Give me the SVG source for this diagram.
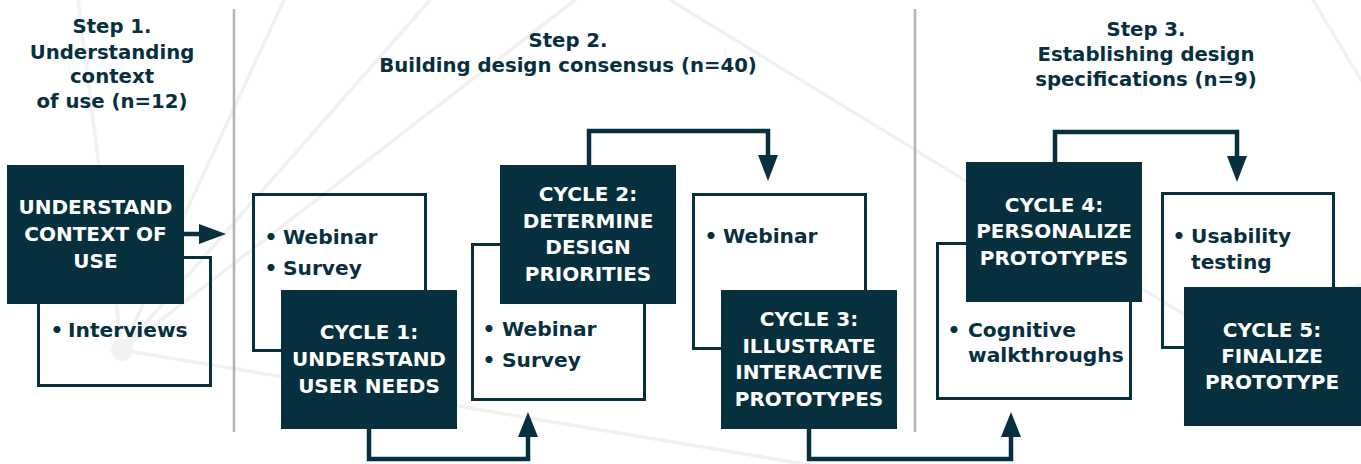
<svg xmlns="http://www.w3.org/2000/svg" width="1361" height="464" viewBox="0 0 1361 464">
  <defs>
    <style>
      .bg { stroke: #f1f1f1; stroke-width: 3.5; fill: none; stroke-linecap: round; }
      .divider { stroke: #b4b4b4; stroke-width: 2.5; }
      .title { font-family: "DejaVu Sans", "Liberation Sans", sans-serif; font-weight: bold; font-size: 19.7px; fill: #07303f; text-anchor: middle; }
      .dark { fill: #07303f; }
      .frame { fill: none; stroke: #07303f; stroke-width: 3; }
      .label { font-family: "DejaVu Sans", "Liberation Sans", sans-serif; font-weight: bold; font-size: 20px; fill: #ffffff; text-anchor: middle; }
      .item { font-family: "DejaVu Sans", "Liberation Sans", sans-serif; font-weight: bold; font-size: 20.2px; fill: #07303f; }
      .dot { text-anchor: middle; }
      .link { fill: none; stroke: #07303f; stroke-width: 4.5; stroke-linejoin: miter; }
      .head { fill: #07303f; }
    </style>
  </defs>
  <rect width="1361" height="464" fill="#ffffff"/>

  <!-- faint network pattern in the background -->
  <g id="background">
    <line class="bg" x1="78" y1="0" x2="122" y2="350"/>
    <line class="bg" x1="284" y1="0" x2="122" y2="350"/>
    <line class="bg" x1="430" y1="0" x2="122" y2="350"/>
    <line class="bg" x1="575" y1="0" x2="122" y2="350"/>
    <line class="bg" x1="122" y1="350" x2="900" y2="480"/>
    <line class="bg" x1="670" y1="0" x2="1190" y2="318"/>
    <line class="bg" x1="1190" y1="318" x2="1361" y2="285"/>
    <line class="bg" x1="1313" y1="0" x2="1361" y2="80"/>
    <circle cx="122" cy="350" r="11" fill="#f2f2f2"/>
  </g>

  <!-- step dividers -->
  <g id="dividers">
    <line class="divider" x1="234" y1="9" x2="234" y2="432"/>
    <line class="divider" x1="915" y1="9" x2="915" y2="432"/>
  </g>

  <!-- step headings -->
  <g id="step1-title">
    <text class="title" x="112" y="33">Step 1.</text>
    <text class="title" x="112" y="59">Understanding</text>
    <text class="title" x="112" y="83">context</text>
    <text class="title" x="112" y="108">of use (n=12)</text>
  </g>
  <g id="step2-title">
    <text class="title" x="568" y="47">Step 2.</text>
    <text class="title" x="568" y="72">Building design consensus (n=40)</text>
  </g>
  <g id="step3-title">
    <text class="title" x="1146" y="36">Step 3.</text>
    <text class="title" x="1146" y="61">Establishing design</text>
    <text class="title" x="1146" y="86">specifications (n=9)</text>
  </g>

  <!-- connectors -->
  <g id="connectors">
    <line class="link" x1="184" y1="234" x2="201" y2="234"/>
    <polygon class="head" points="199,224 226,234 199,244"/>

    <path class="link" d="M369,429 V459 H528 V434"/>
    <polygon class="head" points="518,437 528,412 538,437"/>

    <path class="link" d="M589,165 V131 H768 V158"/>
    <polygon class="head" points="758,155 768,181 778,155"/>

    <path class="link" d="M809,429 V459 H1011 V434"/>
    <polygon class="head" points="1001,437 1011,412 1021,437"/>

    <path class="link" d="M1055,162 V132 H1237 V159"/>
    <polygon class="head" points="1227,156 1237,182 1247,156"/>
  </g>

  <!-- step 1: context of use -->
  <g id="context-methods">
    <rect class="frame" x="38.5" y="257.5" width="172" height="128"/>
    <text class="item"><tspan class="dot" x="57" y="337">•</tspan><tspan x="68" y="337">Interviews</tspan></text>
  </g>
  <g id="context-of-use">
    <rect class="dark" x="7" y="165" width="177" height="139"/>
    <text class="label" x="95.5" y="214">UNDERSTAND</text>
    <text class="label" x="95.5" y="241">CONTEXT OF</text>
    <text class="label" x="95.5" y="268">USE</text>
  </g>

  <!-- cycle 1 -->
  <g id="cycle1-methods">
    <rect class="frame" x="253.5" y="194.5" width="172" height="156"/>
    <text class="item"><tspan class="dot" x="271" y="244">•</tspan><tspan x="283" y="244">Webinar</tspan></text>
    <text class="item"><tspan class="dot" x="271" y="275">•</tspan><tspan x="283" y="275">Survey</tspan></text>
  </g>
  <g id="cycle1">
    <rect class="dark" x="281" y="290" width="176" height="139"/>
    <text class="label" x="369" y="339">CYCLE 1:</text>
    <text class="label" x="369" y="366">UNDERSTAND</text>
    <text class="label" x="369" y="393">USER NEEDS</text>
  </g>

  <!-- cycle 2 -->
  <g id="cycle2-methods">
    <rect class="frame" x="472.5" y="244.5" width="172" height="155"/>
    <text class="item"><tspan class="dot" x="489" y="336">•</tspan><tspan x="502" y="336">Webinar</tspan></text>
    <text class="item"><tspan class="dot" x="489" y="367">•</tspan><tspan x="502" y="367">Survey</tspan></text>
  </g>
  <g id="cycle2">
    <rect class="dark" x="500" y="165" width="176" height="139"/>
    <text class="label" x="588" y="201">CYCLE 2:</text>
    <text class="label" x="588" y="228">DETERMINE</text>
    <text class="label" x="588" y="254">DESIGN</text>
    <text class="label" x="588" y="281">PRIORITIES</text>
  </g>

  <!-- cycle 3 -->
  <g id="cycle3-methods">
    <rect class="frame" x="693.5" y="194.5" width="172" height="154"/>
    <text class="item"><tspan class="dot" x="711" y="243">•</tspan><tspan x="723" y="243">Webinar</tspan></text>
  </g>
  <g id="cycle3">
    <rect class="dark" x="721" y="290" width="176" height="139"/>
    <text class="label" x="809" y="326">CYCLE 3:</text>
    <text class="label" x="809" y="353">ILLUSTRATE</text>
    <text class="label" x="809" y="379">INTERACTIVE</text>
    <text class="label" x="809" y="406">PROTOTYPES</text>
  </g>

  <!-- cycle 4 -->
  <g id="cycle4-methods">
    <rect class="frame" x="937.5" y="243.5" width="193" height="155"/>
    <text class="item"><tspan class="dot" x="954" y="337">•</tspan><tspan x="968" y="337">Cognitive</tspan></text>
    <text class="item" x="968" y="362">walkthroughs</text>
  </g>
  <g id="cycle4">
    <rect class="dark" x="966" y="162" width="176" height="140"/>
    <text class="label" x="1054" y="212">CYCLE 4:</text>
    <text class="label" x="1054" y="238">PERSONALIZE</text>
    <text class="label" x="1054" y="265">PROTOTYPES</text>
  </g>

  <!-- cycle 5 -->
  <g id="cycle5-methods">
    <rect class="frame" x="1162.5" y="193.5" width="171" height="154"/>
    <text class="item"><tspan class="dot" x="1179" y="243">•</tspan><tspan x="1191" y="243">Usability</tspan></text>
    <text class="item" x="1191" y="269">testing</text>
  </g>
  <g id="cycle5">
    <rect class="dark" x="1184" y="287" width="177" height="139"/>
    <text class="label" x="1272" y="337">CYCLE 5:</text>
    <text class="label" x="1272" y="363">FINALIZE</text>
    <text class="label" x="1272" y="389">PROTOTYPE</text>
  </g>
</svg>
